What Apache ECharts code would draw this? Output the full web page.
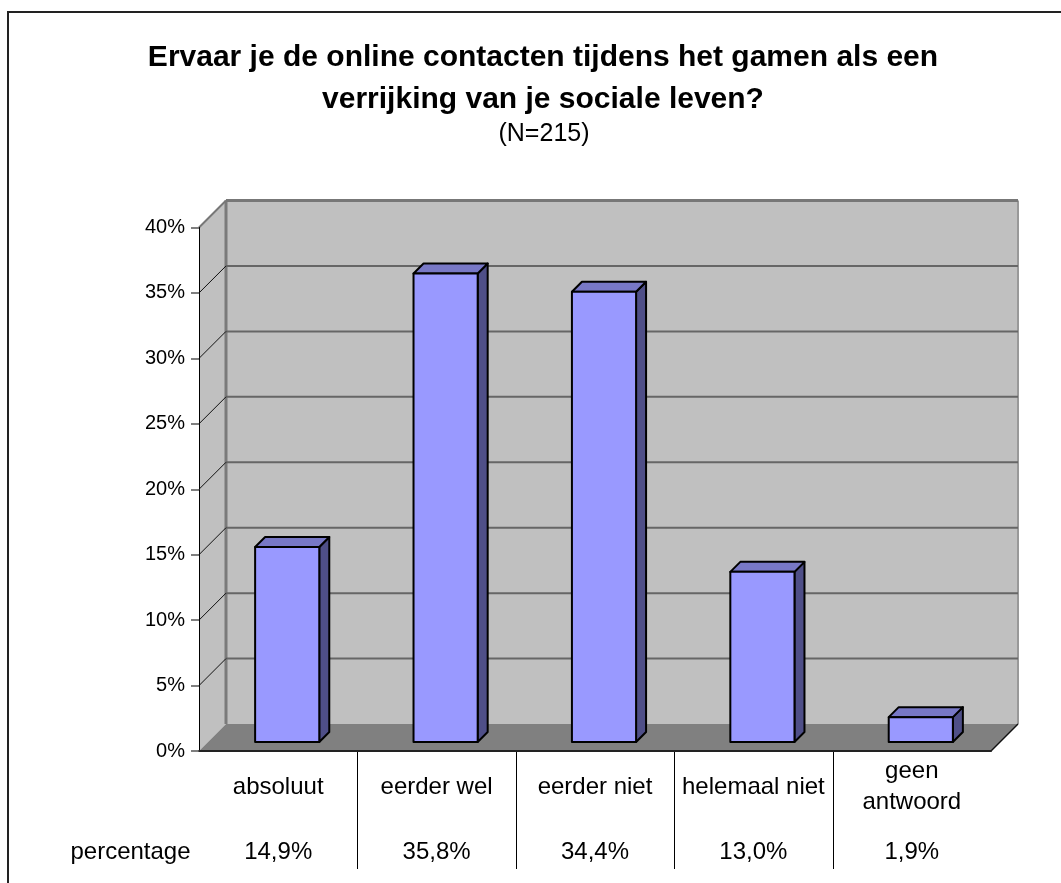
<!DOCTYPE html>
<html>
<head>
<meta charset="utf-8">
<script src="https://cdn.jsdelivr.net/npm/echarts@6/dist/echarts.min.js"></script>
<style>
  html, body { margin: 0; padding: 0; background: #fff; }
  #main { width: 1061px; height: 883px; }
</style>
</head>
<body>
<div id="main"></div>
<script>
// data
const categories = ['absoluut', 'eerder wel', 'eerder niet', 'helemaal niet', 'geen\nantwoord'];
const values = [14.9, 35.8, 34.4, 13.0, 1.9];
const yTicks = [0, 5, 10, 15, 20, 25, 30, 35, 40];
const seriesName = 'percentage';
const valueLabels = values.map(v => v.toFixed(1).replace('.', ',') + '%');

const titleLines = [
  'Ervaar je de online contacten tijdens het gamen als een',
  'verrijking van je sociale leven?'
];
const subTitle = '(N=215)';

const FONT = '"Liberation Sans", Arial, sans-serif';
const D = 27;        // depth of the 3d box
const barShift = 9;  // bar front plane depth
const barDepth = 10; // bar thickness
const barRatio = 0.405;

var myChart = echarts.init(document.getElementById('main'));

// walls + floor
function renderWalls(params, api) {
  const cs = params.coordSys;
  const x0 = cs.x, x1 = cs.x + cs.width;
  const y0 = api.coord([0, 0])[1];
  const yt = api.coord([0, 40])[1];
  return {
    type: 'group',
    children: [
      { type: 'rect', shape: { x: x0 + D, y: yt - D, width: x1 - x0, height: y0 - yt },
        style: { fill: '#C0C0C0' } },
      { type: 'polygon', shape: { points: [[x0, y0], [x0, yt], [x0 + D, yt - D], [x0 + D, y0 - D]] },
        style: { fill: '#C0C0C0' } },
      { type: 'line', shape: { x1: x0 + D, y1: yt - D, x2: x0 + D, y2: y0 - D },
        style: { stroke: '#7a7a7a', lineWidth: 3 } },
      { type: 'line', shape: { x1: x1 + D, y1: yt - D, x2: x1 + D, y2: y0 - D },
        style: { stroke: '#999', lineWidth: 2 } },
      { type: 'polygon', shape: { points: [[x0, y0], [x1, y0], [x1 + D, y0 - D], [x0 + D, y0 - D]] },
        style: { fill: '#808080' } },
      { type: 'line', shape: { x1: x1, y1: y0, x2: x1 + D, y2: y0 - D },
        style: { stroke: '#111', lineWidth: 1.5 } }
    ]
  };
}

// gridlines on back wall and side wall
function renderGrid(params, api) {
  const cs = params.coordSys;
  const x0 = cs.x, x1 = cs.x + cs.width;
  const v = api.value(1);
  const y = api.coord([0, v])[1];
  if (v === 0) return { type: 'group', children: [] };
  const top = v === 40;
  return {
    type: 'group',
    children: [
      { type: 'line', shape: { x1: x0 + D, y1: y - D, x2: x1 + D, y2: y - D },
        style: { stroke: top ? '#777' : '#666', lineWidth: top ? 3 : 2 } },
      { type: 'line', shape: { x1: x0, y1: y, x2: x0 + D, y2: y - D },
        style: { stroke: top ? '#777' : '#111', lineWidth: top ? 2 : 1 } }
    ]
  };
}

// 3d bars + table lines
function renderBar(params, api) {
  const i = api.value(0);
  const v = api.value(1);
  const base = api.coord([i, 0]);
  const topPt = api.coord([i, v]);
  const cw = api.size([1, 0])[0];
  const w = cw * barRatio;
  const xl = base[0] + barShift - w / 2, xr = xl + w;
  const yb = base[1] - barShift, yt = topPt[1] - barShift;
  const d = barDepth;
  const lineStyle = { stroke: '#000', lineWidth: 2, lineJoin: 'round' };
  const children = [
    { type: 'polygon', shape: { points: [[xr, yt], [xr + d, yt - d], [xr + d, yb - d], [xr, yb]] },
      style: Object.assign({ fill: '#4F4F88' }, lineStyle) },
    { type: 'polygon', shape: { points: [[xl, yt], [xr, yt], [xr + d, yt - d], [xl + d, yt - d]] },
      style: Object.assign({ fill: '#7878C6' }, lineStyle) },
    { type: 'rect', shape: { x: xl, y: yt, width: w, height: yb - yt },
      style: Object.assign({ fill: '#9999FF' }, lineStyle) }
  ];
  if (i > 0) {
    const xb = Math.round(base[0] - cw / 2) + 0.5;
    children.push({ type: 'line', shape: { x1: xb, y1: base[1], x2: xb, y2: base[1] + 118 },
      style: { stroke: '#000', lineWidth: 1 } });
  }
  return { type: 'group', children: children };
}

const option = {
  backgroundColor: '#fff',
  animation: false,
  grid: { left: 199, right: 70, top: 227.5, bottom: 132 },
  xAxis: [
    {
      type: 'category',
      data: categories,
      z: 10,
      axisLine: { show: true, lineStyle: { color: '#222', width: 2 } },
      axisTick: { show: false },
      axisLabel: { margin: 36, interval: 0, fontFamily: FONT, fontSize: 24, color: '#000',
                   lineHeight: 31, verticalAlign: 'middle' },
      splitLine: { show: false }
    },
    {
      type: 'category',
      data: valueLabels,
      position: 'bottom',
      axisLine: { show: false },
      axisTick: { show: false },
      axisLabel: { margin: 101, interval: 0, fontFamily: FONT, fontSize: 24, color: '#000',
                   verticalAlign: 'middle' },
      splitLine: { show: false }
    }
  ],
  yAxis: {
    type: 'value',
    min: 0,
    max: 40,
    interval: 5,
    z: 10,
    axisLine: { show: true, lineStyle: { color: '#000', width: 1 } },
    axisTick: { show: true, length: 8, lineStyle: { color: '#555', width: 1.5 } },
    axisLabel: { formatter: '{value}%', margin: 14, fontFamily: FONT, fontSize: 20, color: '#000' },
    splitLine: { show: false }
  },
  graphic: [
    { type: 'rect', shape: { x: 8, y: 12, width: 1200, height: 1000 },
      style: { fill: 'none', stroke: '#222', lineWidth: 2 }, silent: true },
    { type: 'text', x: 543, y: 57.5,
      style: { text: titleLines[0], font: 'bold 30px ' + FONT, fill: '#000', textAlign: 'center', textVerticalAlign: 'middle' } },
    { type: 'text', x: 543, y: 100,
      style: { text: titleLines[1], font: 'bold 30px ' + FONT, fill: '#000', textAlign: 'center', textVerticalAlign: 'middle' } },
    { type: 'text', x: 544, y: 134,
      style: { text: subTitle, font: '25px ' + FONT, fill: '#000', textAlign: 'center', textVerticalAlign: 'middle' } },
    { type: 'text', x: 130.5, y: 852,
      style: { text: seriesName, font: '24px ' + FONT, fill: '#000', textAlign: 'center', textVerticalAlign: 'middle' } }
  ],
  series: [
    {
      type: 'custom',
      name: 'walls',
      z: 1,
      clip: false,
      silent: true,
      renderItem: renderWalls,
      data: [[0, 0]]
    },
    {
      type: 'custom',
      name: 'grid',
      z: 2,
      clip: false,
      silent: true,
      renderItem: renderGrid,
      data: yTicks.map(v => [0, v])
    },
    {
      type: 'custom',
      name: seriesName,
      z: 3,
      clip: false,
      renderItem: renderBar,
      data: values.map((v, i) => [i, v])
    }
  ]
};

myChart.setOption(option);
</script>
</body>
</html>
